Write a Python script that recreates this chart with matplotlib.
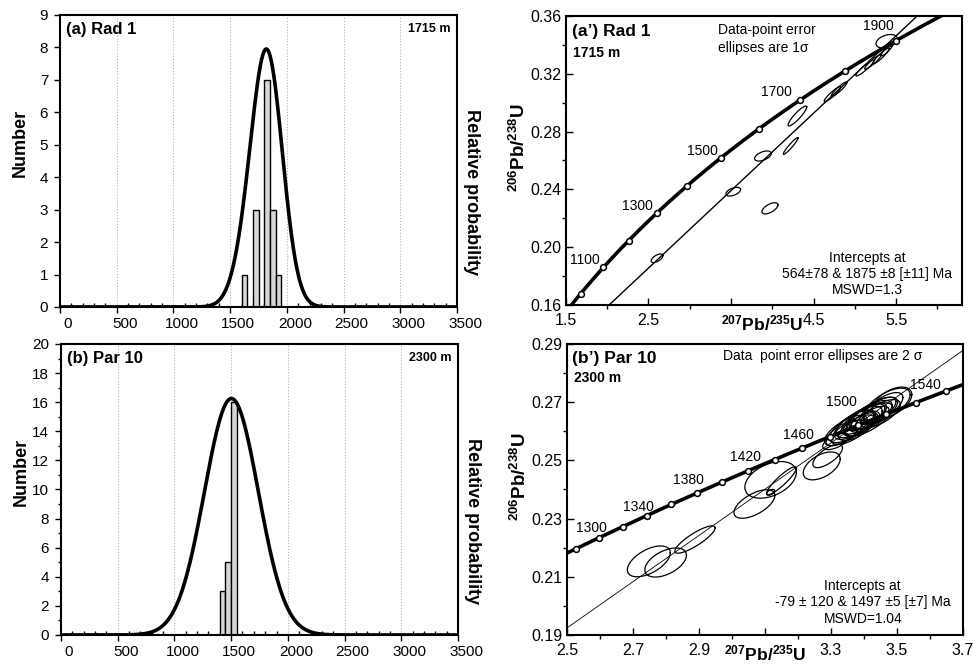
import numpy as np
import matplotlib
matplotlib.use("Agg")
import matplotlib.pyplot as plt
import matplotlib.transforms as mtransforms
from matplotlib.ticker import MultipleLocator, FixedLocator

plt.rcParams['font.family'] = ['Liberation Sans', 'DejaVu Sans']
plt.rcParams['mathtext.fontset'] = 'custom'
plt.rcParams['mathtext.rm'] = 'Liberation Sans'
plt.rcParams['mathtext.bf'] = 'Liberation Sans:bold'

# decay constants (1/yr)
L238 = 1.55125e-10
L235 = 9.8485e-10

# ---- histogram data: single grain ages (Ma) ----
rad1_ages = [1625, 1725, 1725, 1725, 1825, 1825, 1825, 1825, 1825, 1825, 1825,
             1875, 1875, 1875, 1925]
par10_ages = [1425, 1425, 1425, 1475, 1475, 1475, 1475, 1475,
              1525, 1525, 1525, 1525, 1525, 1525, 1525, 1525,
              1525, 1525, 1525, 1525, 1525, 1525, 1525, 1525]
rad1_sigma = 125
par10_sigma = 235
rad1_peak = 7.95
par10_peak = 16.25

# ---- concordia markers (Ma) ----
rad1_marks = [1000, 1100, 1200, 1300, 1400, 1500, 1600, 1700, 1800, 1900]
rad1_labels = [1100, 1300, 1500, 1700, 1900]
par10_marks = [1280, 1300, 1320, 1340, 1360, 1380, 1400, 1420, 1440, 1460,
               1480, 1500, 1520, 1540, 1560]
par10_labels = [1300, 1340, 1380, 1420, 1460, 1500, 1540]

# discordia intercepts (Ma)
rad1_intercepts = [564, 1875]
par10_intercepts = [-79, 1497]

# ---- error ellipses: 207Pb/235U, 206Pb/238U, half-widths, rho ----
rad1_x = [2.603, 3.527, 3.972, 3.887, 4.223, 4.305, 4.730, 4.810, 5.123, 5.220, 5.318, 5.390, 5.388]
rad1_y = [0.1923, 0.2384, 0.2269, 0.2631, 0.2700, 0.2908, 0.3059, 0.3093, 0.3240, 0.3282, 0.3323, 0.3365, 0.3425]
rad1_sx = [0.071, 0.089, 0.097, 0.101, 0.089, 0.113, 0.100, 0.095, 0.110, 0.100, 0.100, 0.070, 0.130]
rad1_sy = [0.0030, 0.0030, 0.0039, 0.0035, 0.0058, 0.0069, 0.0052, 0.0050, 0.0055, 0.0050, 0.0055, 0.0040, 0.0047]
rad1_rho = [0.6, 0.5, 0.6, 0.5, 0.95, 0.9, 0.92, 0.92, 0.93, 0.93, 0.93, 0.9, 0.35]

par10_x = [2.748, 2.799, 2.888, 3.068, 3.117, 3.150, 3.117, 3.272, 3.290, 3.315,
           3.335, 3.345, 3.355, 3.365, 3.370, 3.378, 3.385, 3.392, 3.398, 3.402,
           3.408, 3.412, 3.420, 3.426, 3.432, 3.442, 3.450, 3.458, 3.470, 3.485]
par10_y = [0.2153, 0.2149, 0.2228, 0.2350, 0.2433, 0.2430, 0.2390, 0.2481, 0.2515, 0.2565,
           0.2592, 0.2603, 0.2597, 0.2617, 0.2622, 0.2612, 0.2632, 0.2624, 0.2642, 0.2633,
           0.2650, 0.2640, 0.2656, 0.2646, 0.2663, 0.2671, 0.2661, 0.2681, 0.2690, 0.2700]
par10_sx = [0.065, 0.063, 0.061, 0.062, 0.078, 0.045, 0.012, 0.056, 0.045, 0.040,
            0.050, 0.065, 0.055, 0.070, 0.060, 0.055, 0.070, 0.050, 0.065, 0.045,
            0.060, 0.075, 0.065, 0.050, 0.070, 0.055, 0.060, 0.060, 0.070, 0.060]
par10_sy = [0.0053, 0.0050, 0.0047, 0.0049, 0.0063, 0.0048, 0.0010, 0.0048, 0.0040, 0.0028,
            0.0042, 0.0052, 0.0042, 0.0056, 0.0050, 0.0044, 0.0054, 0.0040, 0.0052, 0.0036,
            0.0048, 0.0058, 0.0050, 0.0040, 0.0054, 0.0046, 0.0048, 0.0052, 0.0058, 0.0052]
par10_rho = [0.55, 0.5, 0.85, 0.6, 0.4, 0.9, 0.5, 0.5, 0.7, 0.6,
             0.65, 0.7, 0.62, 0.72, 0.68, 0.65, 0.7, 0.66, 0.72, 0.62,
             0.68, 0.7, 0.68, 0.65, 0.7, 0.68, 0.66, 0.68, 0.62, 0.5]


def ratios(t_ma):
    t = np.asarray(t_ma, dtype=float) * 1e6
    return np.exp(L235 * t) - 1, np.exp(L238 * t) - 1


def age_panel(ax, ages, sigma, peak, ymax, ystep, title, depth):
    ax.hist(ages, bins=np.arange(0, 3550, 50), color='#d6d6d6', edgecolor='k', lw=1.0, zorder=2)
    t = np.linspace(0, 3500, 1401)
    dens = sum(np.exp(-0.5 * ((t - a) / sigma) ** 2) for a in ages)
    ax.plot(t, dens / dens.max() * peak, color='k', lw=2.6, zorder=3)
    for g in range(500, 3500, 500):
        ax.axvline(g, color='#b0b0b0', lw=0.8, ls=':', zorder=0)
    ax.set_xlim(0, 3500)
    ax.set_ylim(0, ymax)
    ax.xaxis.set_major_locator(MultipleLocator(500))
    ax.xaxis.set_minor_locator(MultipleLocator(100))
    ax.yaxis.set_major_locator(MultipleLocator(ystep))
    if ystep == 2:
        ax.yaxis.set_minor_locator(MultipleLocator(1))
    ax.tick_params(axis='x', which='major', direction='out', length=4, width=1, pad=3, labelsize=11)
    ax.tick_params(axis='x', which='minor', direction='in', length=3, width=1)
    ax.tick_params(axis='y', which='major', direction='out', length=4, width=1, pad=4.5, labelsize=11)
    ax.tick_params(axis='y', which='minor', direction='out', length=2.5, width=1)
    for s in ax.spines.values():
        s.set_linewidth(1.5)
    off = mtransforms.ScaledTranslation(8 / 100, 0, ax.figure.dpi_scale_trans)
    for lab in ax.xaxis.get_majorticklabels():
        lab.set_transform(lab.get_transform() + off)
    ax.text(0.016, 0.975, title, transform=ax.transAxes, ha='left', va='top',
            fontsize=12, fontweight='bold')
    ax.text(0.983, 0.972, depth, transform=ax.transAxes, ha='right', va='top',
            fontsize=9, fontweight='bold')
    ax.text(-0.1, 0.56, 'Number', transform=ax.transAxes, rotation=90, ha='center',
            va='center', fontsize=13, fontweight='bold')
    ax.text(1.037, 0.393, 'Relative probability', transform=ax.transAxes, rotation=270,
            ha='center', va='center', fontsize=13, fontweight='bold')


def conc_panel(ax, marks, labels, label_off, intercepts, ex, ey, esx, esy, erho,
               xlim, ylim, xmaj, ymaj, hide_tick, disc_lw, xlab_pos):
    tt = np.linspace(0, 4500, 2000)
    cx, cy = ratios(tt)
    ax.plot(cx, cy, color='k', lw=2.6, zorder=2)
    ix, iy = ratios(intercepts)
    ax.axline((ix[0], iy[0]), (ix[1], iy[1]), color='k', lw=disc_lw, zorder=1)
    th = np.linspace(0, 2 * np.pi, 150)
    for x0, y0, sx, sy, r in zip(ex, ey, esx, esy, erho):
        xs = x0 + sx * np.cos(th)
        ys = y0 + sy * (r * np.cos(th) + np.sqrt(1 - r ** 2) * np.sin(th))
        ax.plot(xs, ys, color='k', lw=0.9, zorder=3)
    mx, my = ratios(marks)
    ax.plot(mx, my, 'o', ms=4.2, mfc='white', mec='k', mew=1.1, zorder=4)
    lx, ly = ratios(labels)
    for a, x0, y0, (dx, dy) in zip(labels, lx, ly, label_off):
        ax.annotate(str(a), xy=(x0, y0), xytext=(dx, dy), textcoords='offset pixels',
                    ha='center', va='bottom', fontsize=10, zorder=5)
    ax.set_xlim(*xlim)
    ax.set_ylim(*ylim)
    xt = np.round(np.arange(xlim[0], xlim[1] + 1e-9, xmaj), 3)
    ax.xaxis.set_major_locator(FixedLocator(xt))
    ax.set_xticklabels(['' if abs(v - hide_tick) < 1e-6 else '%.1f' % v for v in xt])
    ax.xaxis.set_minor_locator(MultipleLocator(xmaj / 2))
    yt = np.round(np.arange(ylim[0], ylim[1] + 1e-9, ymaj), 3)
    ax.yaxis.set_major_locator(FixedLocator(yt))
    ax.set_yticklabels(['%.2f' % v for v in yt])
    ax.yaxis.set_minor_locator(FixedLocator(np.round(yt[:-1] + ymaj / 2, 3)))
    ax.tick_params(axis='both', which='major', direction='in', length=5, width=1, labelsize=11.5)
    ax.tick_params(axis='x', which='major', pad=5.5)
    ax.tick_params(axis='y', which='major', pad=3.5)
    ax.tick_params(axis='both', which='minor', direction='out', length=3, width=1)
    for s in ax.spines.values():
        s.set_linewidth(1.5)
    ax.text(-0.119, 0.545, r'$\mathbf{^{206}Pb/^{238}U}$', transform=ax.transAxes,
            rotation=90, ha='center', va='center', fontsize=13.5)
    ax.annotate(r'$\mathbf{^{207}Pb/^{235}U}$', xy=(xlab_pos, 0), xycoords='axes fraction',
                xytext=(0, -9), textcoords='offset pixels', ha='center', va='top', fontsize=12.5)


fig = plt.figure(figsize=(9.73, 6.64), dpi=100)
ax_a = fig.add_axes([0.0617, 0.5377, 0.408, 0.4398])
ax_b = fig.add_axes([0.0627, 0.0437, 0.408, 0.4383])
ax_c = fig.add_axes([0.5817, 0.5407, 0.407, 0.4352])
ax_d = fig.add_axes([0.5827, 0.0437, 0.407, 0.4383])

age_panel(ax_a, rad1_ages, rad1_sigma, rad1_peak, 9, 1, '(a) Rad 1', '1715 m')
age_panel(ax_b, par10_ages, par10_sigma, par10_peak, 20, 2, '(b) Par 10', '2300 m')

conc_panel(ax_c, rad1_marks, rad1_labels,
           [(-19, 0), (-19, 0), (-19, 0), (-23, 1), (-17, 8)],
           rad1_intercepts, rad1_x, rad1_y, rad1_sx, rad1_sy, rad1_rho,
           (1.5, 6.3), (0.16, 0.36), 1.0, 0.04, 3.5, 1.0, 0.495)
conc_panel(ax_d, par10_marks, par10_labels,
           [(-8, 3), (-8, 2), (-8, 6), (-3, 7), (-3, 6), (-16, 16), (10, 11)],
           par10_intercepts, par10_x, par10_y, par10_sx, par10_sy, par10_rho,
           (2.5, 3.7), (0.19, 0.29), 0.2, 0.02, 3.1, 0.6, 0.5)

ax_c.text(0.015, 0.972, '(a\u2019) Rad 1', transform=ax_c.transAxes, ha='left', va='top',
          fontsize=12.5, fontweight='bold')
ax_c.text(0.018, 0.896, '1715 m', transform=ax_c.transAxes, ha='left', va='top',
          fontsize=10, fontweight='bold')
ax_c.text(0.384, 0.975, 'Data-point error\nellipses are 1\u03c3', transform=ax_c.transAxes,
          ha='left', va='top', fontsize=10, linespacing=1.3)
ax_c.text(0.76, 0.187, 'Intercepts at\n564\u00b178 & 1875 \u00b18 [\u00b111] Ma\nMSWD=1.3',
          transform=ax_c.transAxes, ha='center', va='top', fontsize=10, linespacing=1.2)

ax_d.text(0.013, 0.975, '(b\u2019) Par 10', transform=ax_d.transAxes, ha='left', va='top',
          fontsize=12.5, fontweight='bold')
ax_d.text(0.018, 0.906, '2300 m', transform=ax_d.transAxes, ha='left', va='top',
          fontsize=10, fontweight='bold')
ax_d.text(0.394, 0.982, 'Data  point error ellipses are 2 \u03c3', transform=ax_d.transAxes,
          ha='left', va='top', fontsize=10)
ax_d.text(0.747, 0.192, 'Intercepts at\n-79 \u00b1 120 & 1497 \u00b15 [\u00b17] Ma\nMSWD=1.04',
          transform=ax_d.transAxes, ha='center', va='top', fontsize=10, linespacing=1.2)

fig.savefig('out.png', dpi=100)
